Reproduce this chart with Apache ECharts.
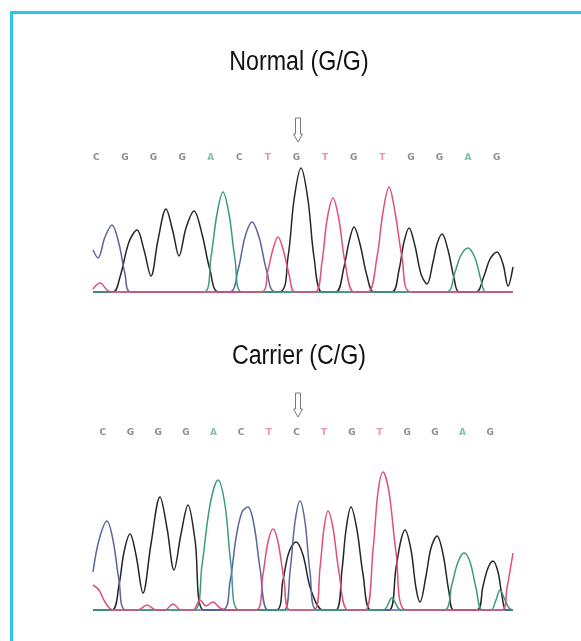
<!DOCTYPE html>
<html><head><meta charset="utf-8">
<script src="https://cdn.jsdelivr.net/npm/echarts/dist/echarts.min.js"></script>
<style>html,body{margin:0;padding:0;background:#fff}#c{width:581px;height:641px}</style>
</head><body><div id="c"></div><script>
// Base calls (tick labels)
const normalBases  = ['C','G','G','G','A','C','T','G','T','G','T','G','G','A','G'];
const carrierBases = ['C','G','G','G','A','C','T','C','T','G','T','G','G','A','G'];
const titles = ['Normal (G/G)', 'Carrier (C/G)'];

// Normal (G/G) traces: [scan position, signal]
const normalC = [[0,42],[5,34],[12,55],[19,67],[26,48],[32,18],[38,0],[136,0],[145,22],[152,55],[159,70],[166,55],[174,20],[183,0],[420,0]];
const normalG = [[0,0],[20,0],[27,15],[36,50],[44,62],[51,42],[58,16],[65,52],[73,83],[80,60],[86,36],[93,64],[101,81],[109,58],[117,22],[126,0],
  [186,0],[195,35],[201,92],[208,124],[215,92],[221,35],[229,0],
  [243,0],[251,25],[256,50],[261,65],[267,48],[274,16],[281,0],
  [299,0],[306,22],[311,50],[316,64],[322,46],[328,18],[334,8],[340,30],[344,48],[349,58],[355,42],[361,14],[366,0],
  [383,0],[391,16],[397,33],[404,40],[410,28],[415,6],[420,25]];
const normalA = [[0,0],[111,0],[118,35],[124,78],[130,100],[136,78],[142,33],[149,0],[353,0],[362,20],[368,37],[375,44],[382,34],[388,12],[393,0],[420,0]];
const normalT = [[0,3],[7,9],[14,2],[18,0],[168,0],[175,22],[180,43],[185,55],[190,43],[196,18],[202,0],
  [222,0],[229,30],[234,72],[240,94],[246,72],[252,30],[261,0],
  [275,0],[284,35],[290,80],[296,105],[302,80],[309,35],[318,0],[420,0]];

// Carrier (C/G) traces
const carrierC = [[0,38],[6,70],[14,89],[20,70],[26,30],[33,0],[129,0],[137,28],[143,72],[149,98],[155,103],[161,85],[167,42],[175,0],
  [191,0],[197,38],[202,88],[207,109],[212,88],[217,38],[224,0],[420,0]];
const carrierG = [[0,0],[19,0],[26,25],[31,58],[37,76],[43,55],[50,17],[58,66],[67,113],[74,82],[81,40],[88,76],[95,105],[102,70],[111,0],
  [183,0],[190,30],[196,58],[203,68],[210,55],[218,20],[230,0],
  [243,0],[249,40],[253,80],[258,103],[264,80],[270,36],[278,0],
  [296,0],[303,42],[308,70],[312,80],[318,60],[323,22],[327,8],[333,34],[338,62],[344,74],[350,56],[356,18],[361,0],
  [384,0],[390,24],[395,42],[400,49],[405,38],[409,14],[413,0],[420,0]];
const carrierA = [[0,0],[101,0],[109,45],[117,105],[125,130],[132,105],[138,45],[146,0],[290,0],[299,12],[308,0],
  [351,0],[359,26],[365,48],[371,57],[377,48],[383,22],[389,0],[398,0],[403,10],[407,20],[412,10],[416,2],[420,0]];
const carrierT = [[0,25],[6,20],[12,8],[20,0],[45,0],[54,5],[63,0],[72,0],[80,6],[88,0],[100,0],[107,10],[113,4],[120,8],[127,2],[135,0],
  [163,0],[170,36],[175,68],[180,81],[185,68],[191,30],[197,0],
  [221,0],[227,42],[231,82],[235,99],[240,82],[246,38],[255,0],
  [272,0],[280,60],[285,118],[290,138],[296,118],[303,58],[313,0],
  [409,0],[414,22],[418,45],[420,57]];

const COL = {G:'#262626', C:'#56679f', A:'#3c9a80', T:'#e24f78'};
const LETTER = {G:'#8c8c8c', C:'#8c8c8c', A:'#86bfa6', T:'#e796ab'};

const chart = echarts.init(document.getElementById('c'), null, {renderer:'canvas'});

function trace(data, color, gi, z){
  return {type:'line', xAxisIndex:gi, yAxisIndex:gi, data:data, showSymbol:false, smooth:0.35,
    clip:false, lineStyle:{color:color, width:1.5}, z:z, silent:true, animation:false};
}
function baseAxis(letters, gi){
  return {type:'category', gridIndex:gi, data:letters, boundaryGap:true,
    axisLine:{show:false}, axisTick:{show:false}, splitLine:{show:false},
    axisLabel:{interval:0, margin:2, fontSize:9, fontWeight:'bold', fontFamily:'DejaVu Sans',
      formatter: v => '{'+v+'|'+v+'}',
      rich:{G:{color:LETTER.G}, C:{color:LETTER.C}, A:{color:LETTER.A}, T:{color:LETTER.T}}}};
}
const hiddenVal = (gi,min,max) => ({type:'value', gridIndex:gi, min:min, max:max, show:false});

const arrow = (cx, top) => ({type:'polygon', silent:true,
  shape:{points:[[cx-2.5,top],[cx+2.5,top],[cx+2.5,top+16],[cx+4.5,top+16],[cx,top+24],[cx-4.5,top+16],[cx-2.5,top+16]]},
  style:{fill:'#fff', stroke:'#7a7a7a', lineWidth:1}});

const heading = (txt, y) => ({type:'text', x:299, y:y, scaleX:0.86, scaleY:1, silent:true,
  style:{text:txt, font:"normal 27px 'Liberation Sans', Arial, sans-serif", fill:'#121212',
    align:'center', verticalAlign:'top', textAlign:'center', textVerticalAlign:'top'}});

chart.setOption({
  animation:false,
  backgroundColor:'#ffffff',
  grid:[
    {left:93, width:420, top:162, height:130},
    {left:93, width:420, top:470, height:140},
    {left:82, width:429, top:150, height:1},
    {left:89, width:415, top:425, height:1}
  ],
  xAxis:[
    {type:'value', gridIndex:0, min:0, max:420, show:false},
    {type:'value', gridIndex:1, min:0, max:420, show:false},
    baseAxis(normalBases, 2),
    baseAxis(carrierBases, 3)
  ],
  yAxis:[hiddenVal(0,0,130), hiddenVal(1,0,140), hiddenVal(2,0,1), hiddenVal(3,0,1)],
  series:[
    trace(normalG, COL.G, 0, 2), trace(normalC, COL.C, 0, 3), trace(normalA, COL.A, 0, 4), trace(normalT, COL.T, 0, 5),
    trace(carrierG, COL.G, 1, 2), trace(carrierC, COL.C, 1, 3), trace(carrierA, COL.A, 1, 4), trace(carrierT, COL.T, 1, 5)
  ],
  graphic:[
    {type:'rect', silent:true, shape:{x:10, y:11, width:571, height:3}, style:{fill:'#2bc5f0'}},
    {type:'rect', silent:true, shape:{x:10, y:11, width:3, height:630}, style:{fill:'#2bc5f0'}},
    heading(titles[0], 49),
    heading(titles[1], 343),
    arrow(298, 118),
    arrow(298, 393)
  ]
});
</script></body></html>
